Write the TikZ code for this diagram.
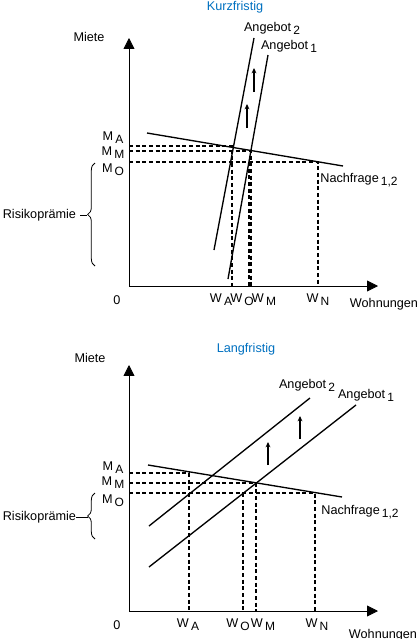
\documentclass[tikz,border=0pt]{standalone}
\usepackage{fontspec}
\setmainfont{Liberation Sans}
\usetikzlibrary{arrows.meta,decorations.pathreplacing}
\definecolor{titleblue}{RGB}{0,112,192}
\newcommand{\lowsub}[1]{\,\raisebox{-0.45ex}{\fontsize{9}{10}\selectfont #1}}
\begin{document}
\begin{tikzpicture}[x=0.75pt,y=-0.75pt,
  every node/.style={inner sep=0pt,outer sep=0pt,font=\fontsize{9.5}{11}\selectfont},
  axis/.style={line width=0.6pt,-{Triangle[length=8.2pt,width=8.2pt]}},
  curve/.style={line width=1pt},
  guide/.style={line width=0.8pt,dash pattern=on 3pt off 2pt},
  shiftarrow/.style={line width=0.8pt,-{Stealth[length=4pt,width=3.6pt]}},
  bracestyle/.style={line width=0.6pt,decorate,decoration={brace,amplitude=5.5pt}},
  title/.style={text=titleblue}]
\useasboundingbox (0,0) rectangle (420,639);

% ================= Kurzfristig =================
\node[title] (t1) at (235,7) {Kurzfristig};
\node (miete1) at (89,37) {Miete};
\coordinate (o1) at (129,286);
\draw[axis] (o1) -- (129,38) coordinate (ytop1);
\draw[axis] (o1) -- (378,286) coordinate (xend1);

% supply & demand
\coordinate (a2s) at (214,250); \coordinate (a2e) at (254,38);
\coordinate (a1s) at (228,279); \coordinate (a1e) at (268,55);
\coordinate (ns) at (147,133);  \coordinate (ne) at (343,166);
\draw[curve] (a2s) -- (a2e);
\draw[curve] (a1s) -- (a1e);
\draw[curve] (ns) -- (ne);
\node (ang2a) at (272,28) {Angebot\lowsub{2}};
\node (ang1a) at (289,46) {Angebot\lowsub{1}};
\node (nach1) at (359,180) {Nachfrage\lowsub{1,2}};

\draw[shiftarrow] (254,92) -- (254,68);
\draw[shiftarrow] (247,128) -- (247,104);

% guides
\draw[guide] (129,146) -- (232,146) -- (232,286);
\draw[guide] (129,151) -- (251,151) -- (251,286);
\draw[guide] (129,162) -- (318,162) -- (318,286);
\draw[guide] (249,162) -- (249,286);

% axis labels
\node (ma1) at (113,138) {M\lowsub{A}};
\node (mm1) at (113,153) {M\lowsub{M}};
\node (mo1) at (113,170) {M\lowsub{O}};
\node (zero1) at (117,300) {0};
\node (wa1) at (221,300) {W\lowsub{A}};
\node (wo1) at (242,300) {W\lowsub{O}};
\node (wm1) at (264,300) {W\lowsub{M}};
\node (wn1) at (318,300) {W\lowsub{N}};
\node (woh1) at (384,304) {Wohnungen};

% risk premium
\draw[bracestyle] (95,266) -- (95,163) coordinate[midway] (bt1);
\node[anchor=east] (risk1) at (76,215) {Risikoprämie};
\draw[line width=0.6pt] (80,215) -- (87,215);

% ================= Langfristig =================
\node[title] (t2) at (246,349) {Langfristig};
\node (miete2) at (90,358) {Miete};
\coordinate (o2) at (129,611);
\draw[axis] (o2) -- (129,365) coordinate (ytop2);
\draw[axis] (o2) -- (378,611) coordinate (xend2);

\coordinate (b2s) at (149,526); \coordinate (b2e) at (310,398);
\coordinate (b1s) at (149,567); \coordinate (b1e) at (356,405);
\coordinate (ms) at (148,465);  \coordinate (me) at (342,497);
\draw[curve] (b2s) -- (b2e);
\draw[curve] (b1s) -- (b1e);
\draw[curve] (ms) -- (me);
\node (ang2b) at (307,385) {Angebot\lowsub{2}};
\node (ang1b) at (366,395) {Angebot\lowsub{1}};
\node (nach2) at (360,512) {Nachfrage\lowsub{1,2}};

\draw[shiftarrow] (300,439) -- (300,416);
\draw[shiftarrow] (268,465) -- (268,442);

\draw[guide] (129,473) -- (189,473) -- (189,611);
\draw[guide] (129,483) -- (256,483) -- (256,611);
\draw[guide] (129,493) -- (315,493) -- (315,611);
\draw[guide] (243,493) -- (243,611);

\node (ma2) at (113,468) {M\lowsub{A}};
\node (mm2) at (113,483) {M\lowsub{M}};
\node (mo2) at (113,501) {M\lowsub{O}};
\node (zero2) at (117,625) {0};
\node (wa2) at (188,625) {W\lowsub{A}};
\node (wo2) at (238,625) {W\lowsub{O}};
\node (wm2) at (263,625) {W\lowsub{M}};
\node (wn2) at (317,625) {W\lowsub{N}};
\node (woh2) at (383,635) {Wohnungen};

\draw[bracestyle] (95,539) -- (95,493) coordinate[midway] (bt2);
\node[anchor=east] (risk2) at (76,517) {Risikoprämie};
\draw[line width=0.6pt] (76,517) -- (88,517);
\end{tikzpicture}
\end{document}
